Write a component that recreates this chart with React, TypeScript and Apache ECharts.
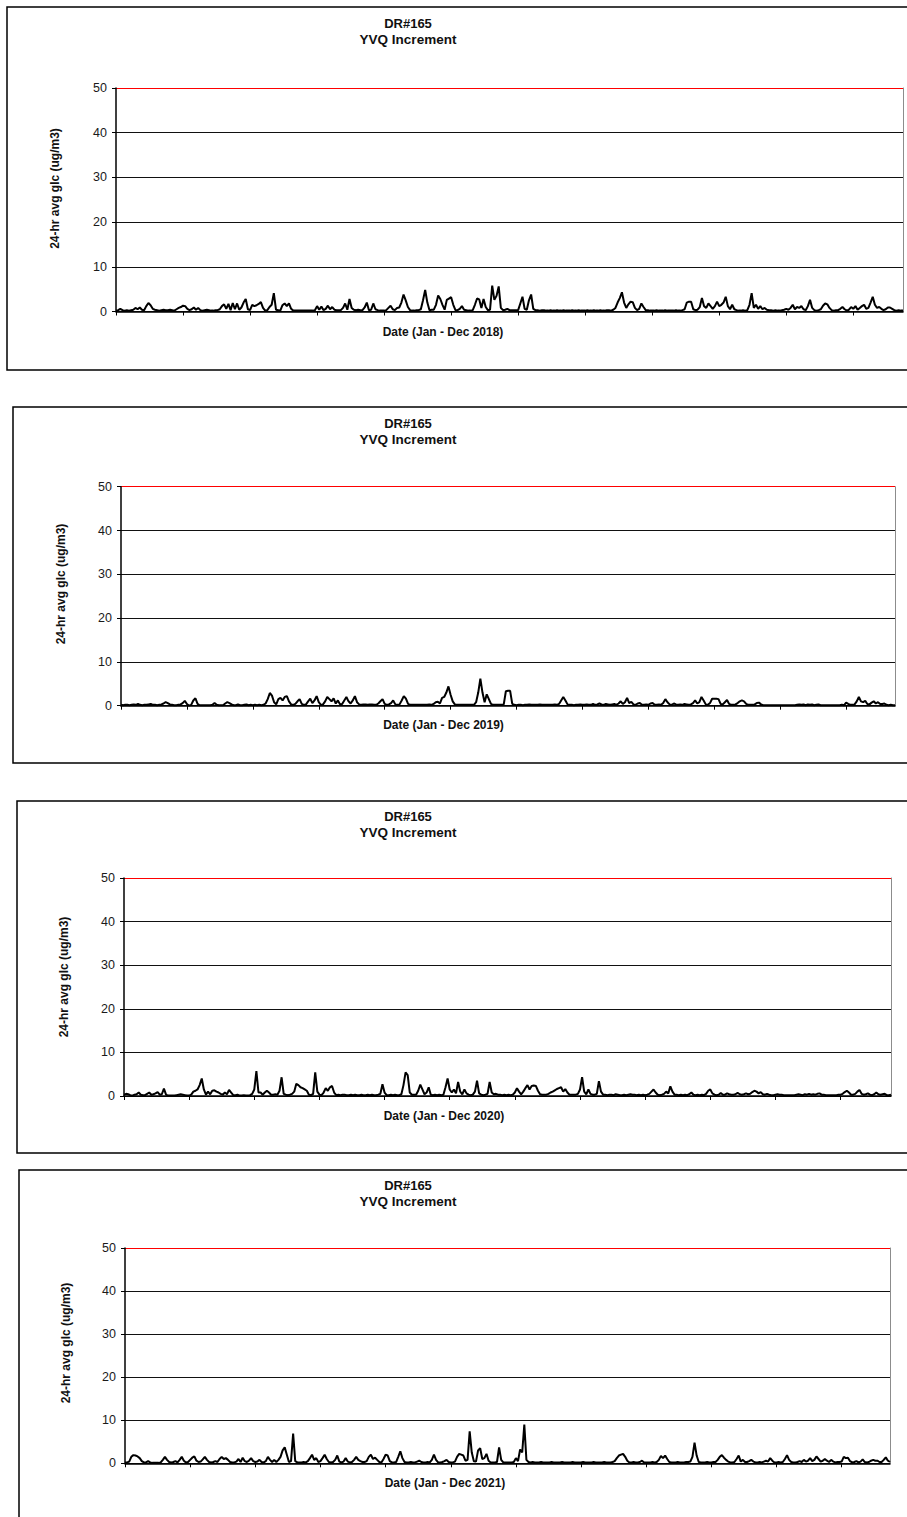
import React, { useEffect, useRef } from "react";
import * as echarts from "echarts";

// ---- DATA (daily 24-hr average glc, ug/m3) ----
const y2018 = [
  0.2,0.3,0.6,0.3,0.2,0.3,0.2,0.3,0.4,0.8,0.5,0.9,0.4,0.3,1.2,1.9,1.4,0.6,0.4,0.3,0.2,0.3,0.4,0.3,0.3,0.4,0.3,0.2,0.5,0.8,1.0,
  1.3,1.2,0.6,0.3,0.5,0.9,0.4,0.8,0.3,0.2,0.3,0.4,0.3,0.2,0.2,0.3,0.3,0.5,1.2,1.6,0.6,1.7,0.3,1.9,0.5,1.8,0.4,0.9,2.0,2.8,0.5,
  0.3,1.5,1.2,1.4,1.7,2.1,0.8,0.2,0.3,1.0,1.5,4.1,0.4,0.3,0.2,1.4,1.8,1.2,1.8,0.6,0.2,0.2,0.2,0.2,0.2,0.2,0.2,0.2,0.2,0.2,0.3,
  1.2,0.4,1.1,0.3,0.6,1.3,0.5,1.0,0.4,0.3,0.3,0.3,0.8,1.8,0.4,2.8,0.8,0.4,0.3,0.4,0.3,0.3,0.9,2.0,0.3,0.4,1.8,0.5,0.3,0.2,0.2,
  0.2,0.3,0.8,1.3,0.5,0.3,0.8,0.9,2.0,3.8,2.5,1.0,0.3,0.2,0.2,0.3,0.3,0.5,2.5,4.8,2.0,0.3,0.4,0.4,1.5,3.6,2.8,1.5,0.4,2.6,2.9,
  3.2,1.5,0.3,0.3,0.6,1.2,0.4,0.3,0.2,0.2,0.3,1.5,2.9,2.7,0.8,2.8,1.0,0.3,0.4,5.8,2.6,3.5,5.6,0.8,0.3,0.4,0.6,0.3,0.3,0.3,0.3,
  0.3,1.8,3.3,0.6,0.4,2.5,3.8,0.6,0.3,0.3,0.2,0.3,0.3,0.2,0.2,0.3,0.2,0.2,0.3,0.2,0.2,0.3,0.2,0.2,0.2,0.3,0.2,0.2,0.3,0.2,0.2,
  0.2,0.3,0.2,0.2,0.3,0.2,0.2,0.3,0.2,0.2,0.3,0.3,0.2,0.4,0.8,2.0,3.0,4.3,2.0,0.8,1.6,2.2,2.1,0.8,0.3,0.6,1.8,1.0,0.3,0.3,0.2,
  0.2,0.2,0.3,0.2,0.2,0.2,0.3,0.2,0.2,0.2,0.2,0.3,0.2,0.2,0.3,0.5,2.0,2.2,2.2,0.5,0.3,0.4,1.0,3.0,1.2,0.8,1.8,1.2,0.6,1.2,2.2,
  1.2,1.5,2.0,3.3,1.2,0.5,1.5,0.5,0.3,0.2,0.2,0.3,0.2,0.3,1.5,4.1,0.8,1.5,0.6,1.2,0.5,0.8,0.4,0.3,0.3,0.2,0.3,0.2,0.2,0.3,0.4,
  0.6,0.4,0.8,1.5,0.5,1.0,0.8,1.2,0.5,0.3,1.2,2.6,0.8,0.3,0.2,0.3,0.5,1.3,1.8,1.6,0.8,0.3,0.2,0.3,0.3,0.6,1.0,0.5,0.2,0.4,1.0,
  0.6,1.2,0.4,0.8,1.2,1.5,0.6,0.8,2.0,3.3,1.5,0.8,1.0,0.6,0.3,0.5,0.9,0.9,0.6,0.3,0.2,0.3,0.2,0.2,
];

const y2019 = [
  0.2,0.1,0.2,0.2,0.1,0.2,0.3,0.2,0.4,0.2,0.1,0.2,0.2,0.3,0.4,0.2,0.2,0.1,0.2,0.3,0.5,0.8,0.6,0.3,0.2,0.1,0.1,0.2,0.3,0.6,1.1,
  0.4,0.0,0.2,1.2,1.7,0.4,0.1,0.1,0.1,0.1,0.1,0.1,0.2,0.6,0.2,0.1,0.1,0.1,0.5,0.8,0.6,0.3,0.1,0.1,0.3,0.1,0.1,0.2,0.3,0.1,0.2,
  0.1,0.2,0.1,0.2,0.1,0.2,0.5,1.5,2.9,2.3,0.8,0.3,1.5,1.8,1.2,2.0,2.2,1.0,0.3,0.2,0.4,1.0,1.5,0.4,0.2,0.3,1.0,1.6,0.6,1.2,2.2,
  0.8,0.2,0.3,1.0,2.0,1.5,1.0,1.7,0.5,1.2,0.3,0.4,1.2,2.0,1.0,0.5,1.2,2.2,0.8,0.3,0.2,0.3,0.3,0.2,0.3,0.3,0.2,0.2,0.5,1.0,1.5,
  0.4,0.2,0.3,0.6,1.2,0.3,0.2,0.3,1.2,2.2,1.6,0.4,0.2,0.2,0.2,0.2,0.2,0.2,0.2,0.2,0.2,0.3,0.2,0.4,0.8,0.9,0.5,1.8,2.0,3.0,4.4,
  2.5,1.0,0.3,0.2,0.2,0.2,0.2,0.2,0.2,0.2,0.2,0.2,0.8,3.0,6.2,3.0,0.8,2.6,1.5,0.4,0.2,0.2,0.2,0.2,0.2,0.3,3.3,3.4,3.4,0.4,0.2,
  0.1,0.2,0.2,0.1,0.2,0.2,0.3,0.2,0.2,0.2,0.2,0.3,0.2,0.2,0.2,0.2,0.2,0.2,0.3,0.2,0.4,1.2,2.0,1.2,0.3,0.2,0.2,0.1,0.2,0.2,0.3,
  0.2,0.2,0.3,0.2,0.2,0.4,0.2,0.3,0.5,0.3,0.2,0.4,0.3,0.2,0.3,0.4,0.2,0.5,1.0,0.4,0.8,1.8,0.6,0.9,0.3,0.2,0.5,0.6,0.2,0.2,0.3,
  0.2,0.5,0.6,0.2,0.2,0.3,0.2,0.6,1.5,0.8,0.3,0.2,0.5,0.3,0.2,0.3,0.2,0.4,0.3,0.2,0.3,0.6,1.2,0.5,0.8,2.0,1.2,0.3,0.2,0.6,1.6,
  1.6,1.6,1.5,0.4,0.3,0.8,1.3,0.4,0.2,0.2,0.3,0.6,1.0,1.2,1.0,0.4,0.2,0.2,0.2,0.3,0.6,0.7,0.3,0.1,0.1,0.1,0.1,0.1,0.1,0.1,0.1,
  0.1,0.1,0.1,0.1,0.1,0.1,0.1,0.1,0.2,0.3,0.2,0.3,0.1,0.3,0.2,0.3,0.1,0.2,0.3,0.1,0.1,0.1,0.1,0.1,0.1,0.1,0.1,0.1,0.1,0.2,0.1,
  0.7,0.4,0.2,0.2,0.3,1.0,2.0,1.0,0.8,1.1,0.4,0.3,0.7,1.0,0.5,0.8,0.4,0.4,0.5,0.2,0.1,0.2,0.1,0.1,
];

const y2020 = [
  0.3,0.5,0.4,0.2,0.1,0.3,0.4,0.8,0.3,0.2,0.2,0.5,0.8,0.3,0.4,0.6,0.9,0.3,0.4,1.7,0.3,0.1,0.1,0.1,0.1,0.2,0.3,0.4,0.3,0.2,0.1,
  0.1,0.3,1.0,1.2,1.5,2.5,4.0,1.5,0.3,1.0,0.4,1.2,1.3,1.0,0.8,0.5,0.3,0.8,0.4,1.4,0.8,0.2,0.2,0.3,0.1,0.1,0.2,0.1,0.1,0.2,0.5,
  1.5,5.7,0.8,0.8,0.3,0.8,1.2,0.8,0.3,0.3,0.4,0.3,1.2,4.3,0.5,0.3,0.2,0.3,0.5,1.0,2.8,2.5,2.0,1.8,1.5,1.2,0.3,0.2,0.5,5.4,1.0,
  0.3,0.2,0.8,1.8,1.2,2.0,2.3,0.8,0.2,0.3,0.2,0.3,0.3,0.2,0.2,0.3,0.2,0.3,0.2,0.2,0.3,0.2,0.2,0.3,0.2,0.3,0.2,0.2,0.3,0.5,2.7,
  0.8,0.2,0.2,0.3,0.2,0.3,0.2,0.2,0.4,2.5,5.4,4.8,0.8,0.3,0.3,0.3,1.2,2.6,1.5,0.4,0.8,2.0,0.3,0.2,0.3,0.2,0.3,0.2,0.3,2.0,4.0,
  1.5,0.8,1.5,0.6,3.2,1.0,0.4,1.5,0.6,0.3,0.2,0.3,1.0,3.5,0.6,0.3,0.2,0.3,0.5,3.2,0.8,0.4,0.5,0.3,0.3,0.2,0.3,0.2,0.3,0.2,0.3,
  0.8,1.8,1.0,0.4,1.0,1.8,2.5,1.5,2.3,2.4,2.3,1.2,0.4,0.3,0.3,0.3,0.5,0.8,1.0,1.3,1.6,1.8,2.0,1.0,1.6,0.8,0.3,0.3,0.3,0.3,0.5,
  1.5,4.3,1.0,0.4,1.5,0.5,0.3,0.3,0.5,3.4,1.0,0.3,0.3,0.2,0.3,0.3,0.2,0.4,0.3,0.2,0.2,0.3,0.2,0.3,0.4,0.3,0.3,0.2,0.3,0.2,0.3,
  0.2,0.3,0.5,1.0,1.5,0.8,0.3,0.2,0.3,0.5,1.0,0.6,2.2,1.0,0.3,0.3,0.2,0.3,0.2,0.3,0.2,0.4,0.8,0.3,0.2,0.3,0.2,0.3,0.2,0.5,1.2,
  1.5,0.6,0.3,0.2,0.3,0.7,0.3,0.3,0.6,0.4,0.3,0.3,0.4,0.7,0.4,0.3,0.4,0.6,0.4,0.5,0.9,1.2,1.0,0.6,0.9,0.4,0.3,0.5,0.3,0.2,0.2,
  0.3,0.4,0.3,0.3,0.2,0.2,0.2,0.2,0.2,0.2,0.3,0.4,0.3,0.2,0.4,0.3,0.5,0.3,0.4,0.3,0.5,0.6,0.3,0.3,0.2,0.2,0.2,0.2,0.2,0.2,0.3,
  0.3,0.5,0.9,1.2,0.8,0.3,0.3,0.5,1.0,1.4,0.5,0.3,0.4,0.6,0.3,0.2,0.4,0.8,0.4,0.3,0.4,0.5,0.2,0.2,0.3,
];

const y2021 = [
  0.2,0.2,0.4,1.5,1.9,1.8,1.6,1.2,0.5,0.2,0.2,0.5,0.2,0.1,0.1,0.1,0.1,0.2,0.8,1.5,0.8,0.3,0.2,0.3,0.5,0.2,0.8,1.5,0.6,0.2,0.3,
  0.8,1.3,1.6,0.6,0.3,0.4,0.9,1.5,0.8,0.3,0.2,0.3,0.5,0.3,1.0,1.5,1.0,1.2,0.8,0.3,0.2,0.2,0.4,1.0,0.3,1.3,0.5,0.3,0.6,1.2,0.5,
  0.3,0.4,0.8,0.3,0.2,0.5,1.5,0.8,0.3,0.8,0.3,0.8,1.5,3.0,3.7,2.0,0.3,0.5,6.9,0.5,0.2,0.2,0.2,0.3,0.2,0.5,1.2,2.0,0.8,1.2,0.3,
  0.5,1.2,2.0,1.0,0.3,0.2,0.3,0.8,1.8,0.4,0.2,0.4,1.2,0.4,0.2,0.3,0.8,1.5,0.8,0.5,0.3,0.3,0.5,1.5,2.0,1.0,1.3,0.8,0.3,0.2,1.0,
  2.0,1.8,0.5,0.2,0.2,0.3,1.5,2.8,1.2,0.3,0.2,0.2,0.3,0.2,0.2,0.4,0.6,0.3,0.2,0.2,0.3,0.2,0.8,2.0,0.8,0.2,0.2,0.3,0.5,0.8,0.3,
  0.2,0.2,0.4,1.5,2.2,2.0,1.8,0.6,0.8,7.4,2.5,0.5,0.4,3.0,3.5,1.0,1.2,2.2,0.6,0.2,0.2,0.2,0.3,3.7,0.8,0.2,0.2,0.2,0.2,0.2,0.3,
  1.2,0.5,3.2,2.5,9.0,0.8,0.3,0.2,0.3,0.2,0.2,0.2,0.3,0.2,0.2,0.2,0.2,0.3,0.2,0.2,0.2,0.2,0.3,0.2,0.2,0.2,0.2,0.3,0.2,0.2,0.2,
  0.2,0.3,0.2,0.2,0.2,0.2,0.3,0.2,0.2,0.2,0.2,0.3,0.2,0.2,0.2,0.3,0.5,1.2,1.8,2.0,2.2,1.5,0.6,0.2,0.2,0.3,0.2,0.2,0.3,0.6,0.2,
  0.2,0.2,0.2,0.3,0.2,0.3,0.8,1.7,1.2,1.8,1.0,0.3,0.2,0.2,0.2,0.3,0.2,0.2,0.2,0.3,0.3,0.4,1.5,4.8,1.8,0.3,0.2,0.2,0.2,0.3,0.2,
  0.2,0.3,0.3,0.8,1.5,1.9,1.3,0.8,0.4,0.2,0.2,0.3,1.0,1.8,0.4,0.8,0.3,0.3,0.5,0.8,0.4,0.2,0.2,0.3,0.2,0.4,0.6,0.4,1.2,0.6,0.2,
  0.2,0.3,0.2,0.3,1.0,1.9,0.8,0.3,0.2,0.2,0.3,0.5,0.3,0.8,0.4,0.6,1.2,0.5,0.8,1.6,1.0,0.4,0.6,1.0,0.6,0.3,0.8,0.4,0.2,0.3,0.3,
  0.4,1.5,1.2,1.3,0.5,0.2,0.3,0.5,0.2,0.4,0.9,0.3,0.2,0.3,0.6,0.8,0.6,0.6,0.3,0.3,0.8,1.4,0.6,0.3,
];

const yearLabels = ["2018", "2019", "2020", "2021"];
const yearSeries = [y2018, y2019, y2020, y2021];
const yTicks = [0, 10, 20, 30, 40, 50];
const limitValue = 50; // red limit line, drawn as the top gridline
const chartTitle = "DR#165";
const chartSubtitle = "YVQ Increment";
const yAxisTitle = "24-hr avg glc (ug/m3)";

// ---- LAYOUT ----
const panels = [
  { box: [7, 7, 920, 363], grid: [116, 88, 787, 223.5], title: 408, ttlY: 23, yName: [55, 188.5], xName: [443, 332] },
  { box: [13, 407, 920, 356], grid: [121, 486.7, 774, 219], title: 408, ttlY: 423, yName: [61, 584], xName: [443.5, 725] },
  { box: [17, 801, 920, 352], grid: [124, 878, 767, 218], title: 408, ttlY: 816, yName: [64, 977], xName: [444, 1115.5] },
  { box: [19, 1170, 920, 420], grid: [125, 1248, 765, 215.3], title: 408, ttlY: 1185, yName: [66, 1343], xName: [445, 1482.5] },
];

const FONT = "'Liberation Sans', Arial, sans-serif";

export default function App() {
  const ref = useRef<HTMLDivElement>(null);

  useEffect(() => {
    if (!ref.current) return;
    const chart = echarts.init(ref.current, null, { renderer: "svg" });

    const grids: any[] = [];
    const xAxes: any[] = [];
    const yAxes: any[] = [];
    const series: any[] = [];
    const graphics: any[] = [];

    const splitColors = yTicks.map((t) => (t === limitValue ? "#ff0000" : "#111111"));

    panels.forEach((p, i) => {
      const data = yearSeries[i];
      const cats = data.map((_, d) => String(d + 1));
      grids.push({
        left: p.grid[0],
        top: p.grid[1],
        width: p.grid[2],
        height: p.grid[3],
        show: false,
      });
      xAxes.push({
        type: "category",
        gridIndex: i,
        data: cats,
        boundaryGap: false,
        axisLine: { show: true, onZero: false, lineStyle: { color: "#000", width: 1.5 } },
        axisTick: { show: true, interval: 30, length: 4, inside: false, lineStyle: { color: "#000", width: 1 } },
        axisLabel: { show: false },
        splitLine: { show: false },
      });
      // left value axis
      yAxes.push({
        type: "value",
        gridIndex: i,
        position: "left",
        min: yTicks[0],
        max: yTicks[yTicks.length - 1],
        interval: 10,
        axisLine: { show: true, onZero: false, lineStyle: { color: "#000", width: 1.5 } },
        axisTick: { show: true, length: 4, inside: false, lineStyle: { color: "#000", width: 1 } },
        axisLabel: { show: true, margin: 9, fontFamily: FONT, fontSize: 12.5, color: "#1a1a1a" },
        splitLine: { show: true, lineStyle: { color: splitColors, width: 1 } },
      });
      // right frame of the plot area (grey edge only)
      yAxes.push({
        type: "value",
        gridIndex: i,
        position: "right",
        min: yTicks[0],
        max: yTicks[yTicks.length - 1],
        interval: 10,
        axisLine: { show: true, onZero: false, lineStyle: { color: "#8c8c8c", width: 1 } },
        axisTick: { show: false },
        axisLabel: { show: false },
        splitLine: { show: false },
      });
      series.push({
        type: "line",
        xAxisIndex: i,
        yAxisIndex: i * 2,
        data,
        showSymbol: false,
        symbol: "none",
        lineStyle: { color: "#000", width: 2 },
        itemStyle: { color: "#000" },
        z: 5,
      });

      graphics.push({
        type: "rect",
        shape: { x: p.box[0], y: p.box[1], width: p.box[2], height: p.box[3] },
        style: { fill: "none", stroke: "#000", lineWidth: 1.5 },
        silent: true,
        z: 0,
      });
      graphics.push({
        type: "text",
        x: p.title,
        y: p.ttlY,
        style: {
          text: chartTitle,
          fontFamily: FONT,
          fontWeight: "bold",
          fontSize: 13,
          fill: "#111",
          textAlign: "center",
          textVerticalAlign: "middle",
        },
      });
      graphics.push({
        type: "text",
        x: p.title,
        y: p.ttlY + 16,
        style: {
          text: chartSubtitle,
          fontFamily: FONT,
          fontWeight: "bold",
          fontSize: 13.5,
          fill: "#111",
          textAlign: "center",
          textVerticalAlign: "middle",
        },
      });
      graphics.push({
        type: "text",
        x: p.yName[0],
        y: p.yName[1],
        rotation: Math.PI / 2,
        style: {
          text: yAxisTitle,
          fontFamily: FONT,
          fontWeight: "bold",
          fontSize: 12,
          fill: "#111",
          textAlign: "center",
          textVerticalAlign: "middle",
        },
      });
      graphics.push({
        type: "text",
        x: p.xName[0],
        y: p.xName[1],
        style: {
          text: `Date (Jan - Dec ${yearLabels[i]})`,
          fontFamily: FONT,
          fontWeight: "bold",
          fontSize: 12,
          fill: "#111",
          textAlign: "center",
          textVerticalAlign: "middle",
        },
      });
    });

    chart.setOption({
      animation: false,
      backgroundColor: "#fff",
      grid: grids,
      xAxis: xAxes,
      yAxis: yAxes,
      series,
      graphic: { elements: graphics },
    });

    return () => {
      chart.dispose();
    };
  }, []);

  return (
    <div
      ref={ref}
      style={{ position: "absolute", left: 0, top: 0, width: 907, height: 1517 }}
    />
  );
}
